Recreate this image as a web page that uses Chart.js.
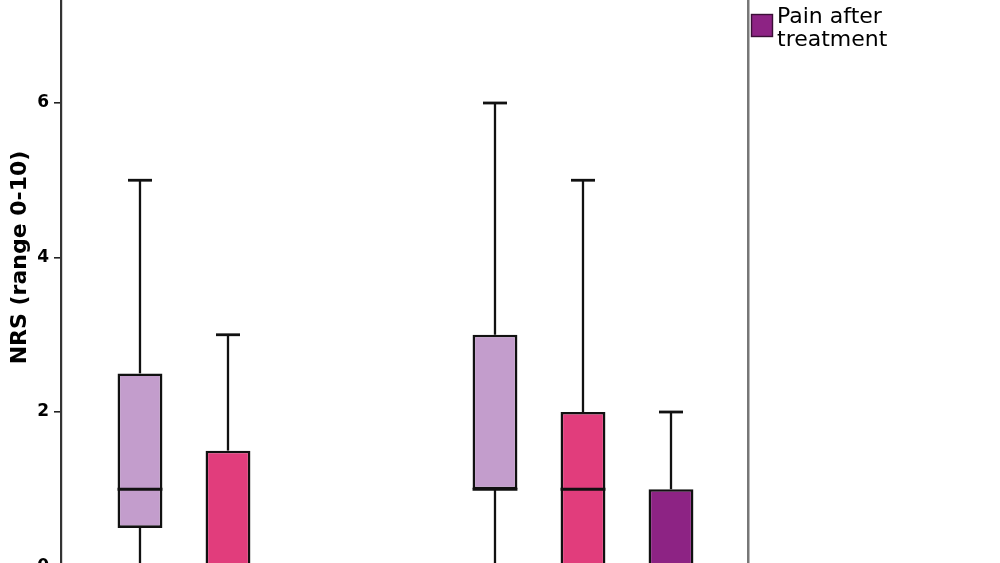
<!DOCTYPE html>
<html>
<head>
<meta charset="utf-8">
<script src="https://cdn.jsdelivr.net/npm/chart.js@4/dist/chart.umd.min.js"></script>
<style>
  html, body { margin: 0; padding: 0; background: #ffffff; overflow: hidden; width: 1000px; height: 563px; }
  #wrap { position: absolute; left: 0; top: -72px; width: 1000px; height: 668px; }
</style>
</head>
<body>
<div id="wrap"><canvas id="c"></canvas></div>
<script>
// ---- data ----
const groupPositions = [1, 2];              // two groups along the x axis (their labels are cut off in the picture)
const seriesNames = ['Series 1', 'Series 2', 'Pain after treatment'];
const legendLines = ['Pain after', 'treatment'];
const yTickValues = [0, 2, 4, 6, 8];

// five-number summaries per series, one value per group
const s1Min = [0, 0],   s1Q1 = [0.5, 1], s1Med = [1, 1], s1Q3 = [2.5, 3], s1Max = [5, 6];
const s2Min = [0, 0],   s2Q1 = [0, 0],   s2Med = [0, 1], s2Q3 = [1.5, 2], s2Max = [3, 5];
const s3Min = [0, 0],   s3Q1 = [0, 0],   s3Med = [0, 0], s3Q3 = [0, 1],   s3Max = [0, 2];

const seriesColors = ['#C39DCC', '#E13D7C', '#8D2384'];

const summaries = [
  { min: s1Min, q1: s1Q1, med: s1Med, q3: s1Q3, max: s1Max },
  { min: s2Min, q1: s2Q1, med: s2Med, q3: s2Q3, max: s2Max },
  { min: s3Min, q1: s3Q1, med: s3Med, q3: s3Q3, max: s3Max }
];

const datasets = summaries.map((s, i) => ({
  label: seriesNames[i],
  data: groupPositions.map((x, j) => ({ x: x, y: [s.q1[j], s.q3[j]] })),
  backgroundColor: seriesColors[i],
  borderColor: '#111111',
  borderWidth: 2.6,
  borderSkipped: false,
  categoryPercentage: 0.7437,
  barPercentage: 0.51
}));

// whiskers, caps and medians drawn through the chart's own scales
const whiskerPlugin = {
  id: 'whiskers',
  afterDatasetsDraw(chart) {
    const ctx = chart.ctx;
    const y = chart.scales.y;
    ctx.save();
    ctx.strokeStyle = '#111111';
    ctx.lineCap = 'butt';
    chart.data.datasets.forEach((ds, i) => {
      const meta = chart.getDatasetMeta(i);
      const s = summaries[i];
      meta.data.forEach((el, j) => {
        const x = el.x;
        const half = el.width / 2;
        const capHalf = 12;
        const pQ1 = y.getPixelForValue(s.q1[j]);
        const pQ3 = y.getPixelForValue(s.q3[j]);
        const pMin = y.getPixelForValue(s.min[j]);
        const pMax = y.getPixelForValue(s.max[j]);
        const pMed = y.getPixelForValue(s.med[j]);
        ctx.lineWidth = 2.3;
        if (s.max[j] > s.q3[j]) {
          ctx.beginPath(); ctx.moveTo(x, pQ3); ctx.lineTo(x, pMax); ctx.stroke();
          ctx.lineWidth = 2.8;
          ctx.beginPath(); ctx.moveTo(x - capHalf, pMax); ctx.lineTo(x + capHalf, pMax); ctx.stroke();
        }
        ctx.lineWidth = 2.3;
        if (s.min[j] < s.q1[j]) {
          ctx.beginPath(); ctx.moveTo(x, pQ1); ctx.lineTo(x, pMin); ctx.stroke();
          ctx.lineWidth = 2.8;
          ctx.beginPath(); ctx.moveTo(x - capHalf, pMin); ctx.lineTo(x + capHalf, pMin); ctx.stroke();
        }
        ctx.lineWidth = 3.2;
        ctx.beginPath(); ctx.moveTo(x - half, pMed); ctx.lineTo(x + half, pMed); ctx.stroke();
      });
    });
    ctx.restore();
  }
};

// legend entry (only the last one is inside the visible frame)
const legendPlugin = {
  id: 'sideLegend',
  afterDraw(chart) {
    const ctx = chart.ctx;
    const a = chart.chartArea;
    const bx = a.right + 3, by = a.top + 65.5;
    ctx.save();
    ctx.fillStyle = seriesColors[2];
    ctx.fillRect(bx, by, 22, 23);
    ctx.strokeStyle = '#3a0f36';
    ctx.lineWidth = 1.4;
    ctx.strokeRect(bx + 0.5, by + 0.5, 21, 22);
    ctx.fillStyle = '#000000';
    ctx.font = '22px "DejaVu Sans"';
    ctx.textAlign = 'left';
    ctx.textBaseline = 'alphabetic';
    legendLines.forEach((t, k) => ctx.fillText(t, a.right + 29, a.top + 74.5 + k * 23));
    ctx.restore();
  }
};

Chart.defaults.font.family = '"DejaVu Sans", sans-serif';

new Chart(document.getElementById('c'), {
  type: 'bar',
  data: { datasets: datasets },
  plugins: [whiskerPlugin, legendPlugin],
  options: {
    responsive: true,
    maintainAspectRatio: false,
    animation: false,
    devicePixelRatio: 1,
    layout: { padding: { left: 0, right: 252, top: 20.5, bottom: 19.5 } },
    plugins: { legend: { display: false }, tooltip: { enabled: false } },
    scales: {
      x: {
        type: 'linear',
        offset: false,
        min: 0.5296,
        max: 2.4648,
        ticks: { display: false },
        grid: { display: false, offset: false },
        border: { display: true, color: '#333333', width: 2 },
        afterBuildTicks(scale) { scale.ticks = groupPositions.map(v => ({ value: v })); },
        afterFit(scale) { scale.height = 10; }
      },
      y: {
        type: 'linear',
        position: 'left',
        min: 0,
        max: 8,
        afterBuildTicks(scale) { scale.ticks = yTickValues.map(v => ({ value: v })); },
        afterFit(scale) { scale.width = 61; },
        ticks: {
          color: '#000000',
          padding: 5,
          font: { size: 17, weight: 'bold', family: '"DejaVu Sans", sans-serif' }
        },
        grid: { display: true, drawOnChartArea: false, drawTicks: true, tickLength: 7, color: '#222222', lineWidth: 1.6 },
        border: { display: true, color: '#333333', width: 2.2 },
        title: {
          display: true,
          text: 'NRS (range 0-10)',
          color: '#000000',
          padding: { top: 7, bottom: 0 },
          font: { size: 22, weight: 'bold', family: '"DejaVu Sans", sans-serif' }
        }
      },
      yR: {
        type: 'linear',
        position: 'right',
        min: 0,
        max: 8,
        ticks: { display: false },
        grid: { display: false },
        border: { display: true, color: '#777777', width: 2.5 },
        afterFit(scale) { scale.width = 0; }
      }
    }
  }
});
</script>
</body>
</html>
